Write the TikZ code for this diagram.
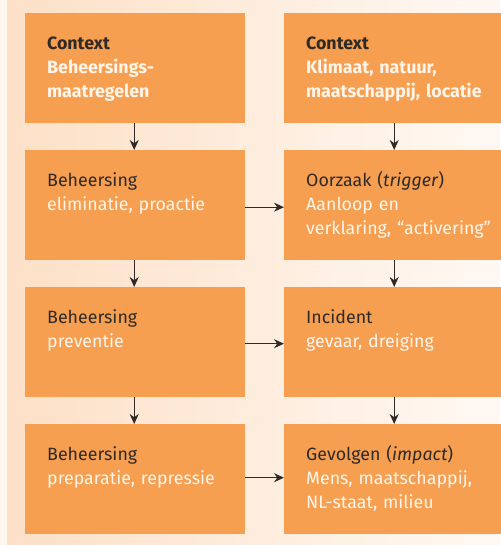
\documentclass[tikz,border=0pt]{standalone}
\usepackage{fontspec}
\setmainfont{Fira Sans}
\usetikzlibrary{arrows.meta,calc}
\definecolor{boxorange}{HTML}{F79F51}
\definecolor{inkdark}{HTML}{2E2A27}
\definecolor{inklight}{HTML}{FFF5EA}
\definecolor{panelpeach}{HTML}{FDE0C7}
\definecolor{panelpale}{HTML}{FFF8F2}
\definecolor{edgepale}{HTML}{FFF6EE}
\tikzset{
  stagebox/.style={draw=none, fill=boxorange, minimum width=220pt, minimum height=110pt,
    inner sep=0pt, anchor=north west},
  stagetext/.style={anchor=base west, inner sep=0pt, text width=200pt, align=left,
    font=\fontsize{17.8}{24}\selectfont, text=inkdark},
  flow/.style={draw=inkdark, line width=1.4pt, -{Stealth[length=10pt,width=9pt]}},
}
\newcommand{\lt}[1]{\textcolor{inklight}{#1}}
\begin{document}
\begin{tikzpicture}[x=1pt,y=-1pt]
  \useasboundingbox (0,0) rectangle (500,545);
  % backdrop
  \fill[edgepale] (0,0) rectangle (500,545);
  \shade[left color=panelpeach, right color=panelpale] (7,0) rectangle (482,545);
  \fill[panelpale] (482,0) rectangle (500,545);

  % left column
  \node[stagebox] (l1) at (25,13)  {};
  \node[stagebox] (l2) at (25,150) {};
  \node[stagebox] (l3) at (25,287) {};
  \node[stagebox] (l4) at (25,424) {};
  % right column
  \node[stagebox] (r1) at (284,13)  {};
  \node[stagebox] (r2) at (284,150) {};
  \node[stagebox] (r3) at (284,287) {};
  \node[stagebox] (r4) at (284,424) {};

  % labels
  \node[stagetext] (tl1) at ($(l1.north west)+(22,37)$)
    {\bfseries Context\\\lt{Beheersings-}\\\lt{maatregelen}};
  \node[stagetext] (tr1) at ($(r1.north west)+(22,37)$)
    {\bfseries Context\\\lt{Klimaat, natuur,}\\\lt{maatschappij, locatie}};
  \node[stagetext] (tl2) at ($(l2.north west)+(22,36)$)
    {Beheersing\\\lt{eliminatie, proactie}};
  \node[stagetext] (tr2) at ($(r2.north west)+(22,36)$)
    {Oorzaak (\textit{trigger})\\\lt{Aanloop en}\\\lt{verklaring, “activering”}};
  \node[stagetext] (tl3) at ($(l3.north west)+(22,36)$)
    {Beheersing\\\lt{preventie}};
  \node[stagetext] (tr3) at ($(r3.north west)+(22,36)$)
    {Incident\\\lt{gevaar, dreiging}};
  \node[stagetext] (tl4) at ($(l4.north west)+(22,36)$)
    {Beheersing\\\lt{preparatie, repressie}};
  \node[stagetext] (tr4) at ($(r4.north west)+(22,36)$)
    {Gevolgen (\textit{impact})\\\lt{Mens, maatschappij,}\\\lt{NL-staat, milieu}};

  % vertical connectors
  \foreach \a/\b in {l1/l2,l2/l3,l3/l4}
    \draw[flow] ($(\a.south)+(-1,0)$) -- ($(\b.north)+(-1,0)$);
  \foreach \a/\b in {r1/r2,r2/r3,r3/r4}
    \draw[flow] (\a.south) -- (\b.north);

  % horizontal connectors
  \draw[flow] ($(l2.east)+(0,2)$) -- ($(r2.west)+(0,2)$);
  \draw[flow] ($(l3.east)+(0,1.5)$) -- ($(r3.west)+(0,1.5)$);
  \draw[flow] ($(l4.east)+(0,-1.5)$) -- ($(r4.west)+(0,-1.5)$);
\end{tikzpicture}
\end{document}
